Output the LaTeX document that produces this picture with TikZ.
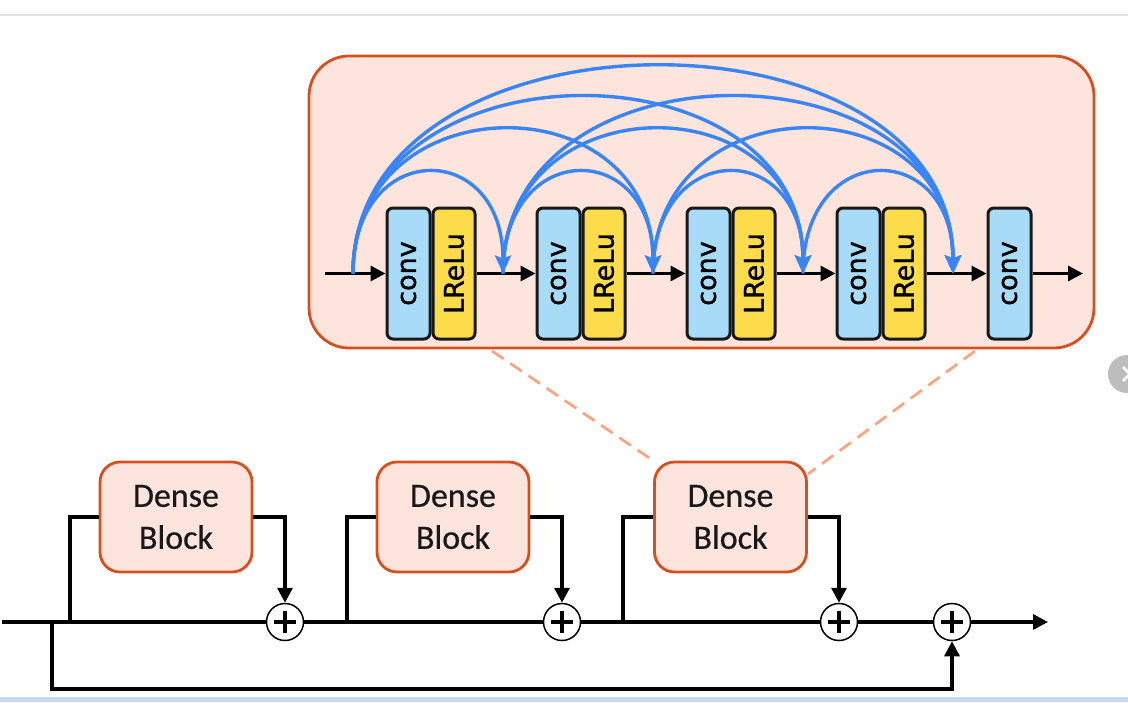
\documentclass[tikz,border=0pt]{standalone}
\usepackage{fontspec}
\usepackage{graphicx}
\usetikzlibrary{arrows.meta}
\newfontfamily\boxfont[FakeBold=1.2]{DejaVu Sans}
\newfontfamily\densefont[FakeBold=0.6]{Carlito}
\definecolor{panelfill}{HTML}{FDE4DC}
\definecolor{panelline}{HTML}{D5501E}
\definecolor{dashcol}{HTML}{F5A683}
\definecolor{arcblue}{HTML}{3985F5}
\definecolor{convblue}{HTML}{A7DBF8}
\definecolor{reluyellow}{HTML}{FDDC4B}
\definecolor{barblue}{HTML}{C4D8FA}
\definecolor{topgray}{HTML}{E2E2E2}
\definecolor{btngray}{HTML}{BDBDBD}
\tikzset{
  panel/.style={draw=panelline, line width=2.8pt, fill=panelfill, rounded corners=40pt,
    minimum width=785pt, minimum height=292pt, inner sep=0pt},
  convbox/.style={draw=black!90, line width=3pt, rounded corners=6pt, fill=convblue,
    minimum width=43pt, minimum height=131pt, inner sep=0pt, font=\boxfont\fontsize{27}{30}\selectfont},
  relubox/.style={convbox, fill=reluyellow, minimum width=42pt},
  dense/.style={draw=panelline, line width=2.8pt, fill=panelfill, rounded corners=20pt,
    minimum width=152pt, minimum height=110pt, inner sep=0pt, align=center,
    text=black!90, font=\densefont\fontsize{34}{42}\selectfont},
  sumnode/.style={circle, draw=black, line width=1.5pt, fill=white, minimum size=37pt, inner sep=0pt,
    path picture={
      \draw[line width=3.4pt] ([xshift=-11pt]path picture bounding box.center) -- ([xshift=11pt]path picture bounding box.center);
      \draw[line width=3.4pt] ([yshift=-11pt]path picture bounding box.center) -- ([yshift=11pt]path picture bounding box.center);}},
  bluearc/.style={draw=arcblue, line width=3.4pt, -{Stealth[length=18pt,width=16pt,inset=3pt]}},
  blkline/.style={draw=black, line width=3.3pt},
  blkarrow/.style={blkline, -{Triangle[length=15pt,width=15pt]}},
  dashline/.style={draw=dashcol, line width=2.8pt, dash pattern=on 14pt off 8pt}
}
\begin{document}
\begin{tikzpicture}[x=1pt,y=-1pt]
\useasboundingbox (0,0) rectangle (1128,702);
% screen artefacts
\draw[topgray, line width=1.5pt] (0,15) -- (1128,15);
\fill[barblue] (0,697) rectangle (1128,702);
\fill[btngray] (1127,374) circle (19);
\draw[white, line width=2.5pt] (1123,367) -- (1137,381) (1123,381) -- (1137,367);

% panel
\node[panel] (panel) at (701.5,202) {};

% blocks
\foreach \i in {0,1,2,3}{
  \node[convbox] (conv\i) at (408.5+150*\i,273.5) {\rotatebox{90}{conv}};
  \node[relubox] (relu\i) at (454+150*\i,273.5) {\rotatebox{90}{LReLu}};
}
\node[convbox] (conv4) at (1009.5,273.5) {\rotatebox{90}{conv}};

% black flow
\coordinate (inp) at (325,273.5);
\coordinate (outp) at (1083,273.5);
\draw[blkarrow] (inp) -- (conv0.west);
\draw[blkarrow] (relu0.east) -- (conv1.west);
\draw[blkarrow] (relu1.east) -- (conv2.west);
\draw[blkarrow] (relu2.east) -- (conv3.west);
\draw[blkarrow] (relu3.east) -- (conv4.west);
\draw[blkarrow] (conv4.east) -- (outp);

% dense connections
\foreach \k in {0,...,4}{ \coordinate (p\k) at (353+150*\k,273.5); }
\draw[bluearc] (p0) .. controls +(0,-135) and +(0,-135) .. (p1);
\draw[bluearc] (p0) .. controls +(0,-192) and +(0,-192) .. (p2);
\draw[bluearc] (p0) .. controls +(0,-235) and +(0,-235) .. (p3);
\draw[bluearc] (p0) .. controls +(0,-276) and +(0,-276) .. (p4);
\draw[bluearc] (p1) .. controls +(0,-135) and +(0,-135) .. (p2);
\draw[bluearc] (p1) .. controls +(0,-192) and +(0,-192) .. (p3);
\draw[bluearc] (p1) .. controls +(0,-235) and +(0,-235) .. (p4);
\draw[bluearc] (p2) .. controls +(0,-135) and +(0,-135) .. (p3);
\draw[bluearc] (p2) .. controls +(0,-192) and +(0,-192) .. (p4);
\draw[bluearc] (p3) .. controls +(0,-135) and +(0,-135) .. (p4);

% lower chain
\node[dense] (db1) at (176,517) {Dense\\Block};
\node[dense] (db2) at (453,517) {Dense\\Block};
\node[dense] (db3) at (730.5,517) {Dense\\Block};

\node[sumnode] (s1) at (285,622) {};
\node[sumnode] (s2) at (562,622) {};
\node[sumnode] (s3) at (839,622) {};
\node[sumnode] (s4) at (952,622) {};

\coordinate (start) at (2,622);
\coordinate (j0) at (52,622);
\coordinate (b0) at (52,689);
\coordinate (j1) at (70,622);
\coordinate (j2) at (347,622);
\coordinate (j3) at (623,622);
\coordinate (fin) at (1048,622);

\draw[blkline] (start) -- (s1.west);
\draw[blkline] (s1.east) -- (s2.west);
\draw[blkline] (s2.east) -- (s3.west);
\draw[blkline] (s3.east) -- (s4.west);
\draw[blkarrow] (s4.east) -- (fin);

\draw[blkline] (j1) |- (db1.west);
\draw[blkline] (j2) |- (db2.west);
\draw[blkline] (j3) |- (db3.west);
\draw[blkarrow] (db1.east) -| (s1.north);
\draw[blkarrow] (db2.east) -| (s2.north);
\draw[blkarrow] (db3.east) -| (s3.north);
\draw[blkarrow] (j0) -- (b0) -| (s4.south);

% zoom guides
\coordinate (dl) at (492,351);
\coordinate (dr) at (975,351);
\coordinate (dr2) at (808,474);
\draw[dashline] (dl) -- (db3.north west);
\draw[dashline] (dr) -- (dr2);
\end{tikzpicture}
\end{document}
